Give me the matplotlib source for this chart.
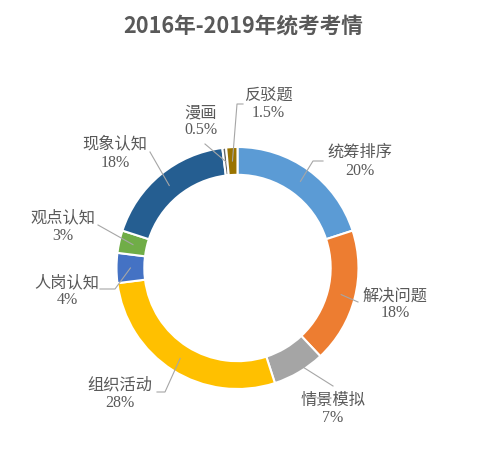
import matplotlib
matplotlib.use("Agg")
import matplotlib.pyplot as plt
import numpy as np

plt.rcParams['font.family'] = ['Noto Sans CJK SC', 'DejaVu Sans']

categories = ["统筹排序", "解决问题", "情景模拟", "组织活动", "人岗认知", "观点认知", "现象认知", "漫画", "反驳题"]
values = [20, 18, 7, 28, 4, 3, 18, 0.5, 1.5]
pct_labels = ["20%", "18%", "7%", "28%", "4%", "3%", "18%", "0.5%", "1.5%"]
colors = ["#5B9BD5", "#ED7D31", "#A5A5A5", "#FFC000", "#4472C4", "#70AD47", "#255E91", "#636363", "#997300"]
title = "2016年-2019年统考考情"

W, H = 499, 456
CX, CY, R = 237.5, 269, 121.0

def u(px, py):
    return ((px - CX) / R, (CY - py) / R)

# label layout in pixel coords: (text x, name y, pct y), leader elbow, leader end
label_layout = [
    ((360, 152, 171), [(313, 162), (323, 162)]),
    ((395, 296, 313), [(358, 303)]),
    ((333, 400, 418), [(333, 387)]),
    ((120, 385, 403), [(165, 393), (157, 393)]),
    ((67, 283, 300), [(115, 290), (100, 290)]),
    ((63, 218, 236), [(98, 226)]),
    ((115, 144, 163), [(150, 153)]),
    ((201, 113, 130), [(205, 145)]),
    ((268, 95, 113), [(237, 105), (243, 105)]),
]

fig = plt.figure(figsize=(W / 100, H / 100), dpi=100)
ax = fig.add_axes([0, 0, 1, 1])

width = 0.23
wedges, _ = ax.pie(values, colors=colors, startangle=90, counterclock=False,
                   radius=1.0, wedgeprops=dict(width=width, edgecolor='white', linewidth=1.5))
ax.set_xlim(-CX / R, (W - CX) / R)
ax.set_ylim(-(H - CY) / R, CY / R)
ax.set_aspect('equal', adjustable='box')
ax.axis('off')

total = sum(values)
cum = 0
rmid = 1 - width / 2
for i, v in enumerate(values):
    mid = cum + v / 2
    cum += v
    ang = np.deg2rad(90 - 360 * mid / total)
    sx, sy = rmid * np.cos(ang), rmid * np.sin(ang)
    (tx, ny, py), pts = label_layout[i]
    xs = [sx] + [u(*p)[0] for p in pts]
    ys = [sy] + [u(*p)[1] for p in pts]
    ax.plot(xs, ys, color='#A6A6A6', lw=0.8, zorder=5)
    ax.text(*u(tx, ny), categories[i], ha='center', va='center', fontsize=11.7,
            color='#595959', family=['Noto Sans CJK SC'])
    ax.text(*u(tx, py), pct_labels[i], ha='center', va='center', fontsize=11.5,
            color='#595959', family=['Liberation Serif'])

fig.text(243 / W, 1 - 26 / H, title, ha='center', va='center', fontsize=15.6,
         fontweight='bold', color='#595959', family=['Noto Sans CJK SC', 'DejaVu Sans'])

fig.savefig("out.png", dpi=100, facecolor='white')
